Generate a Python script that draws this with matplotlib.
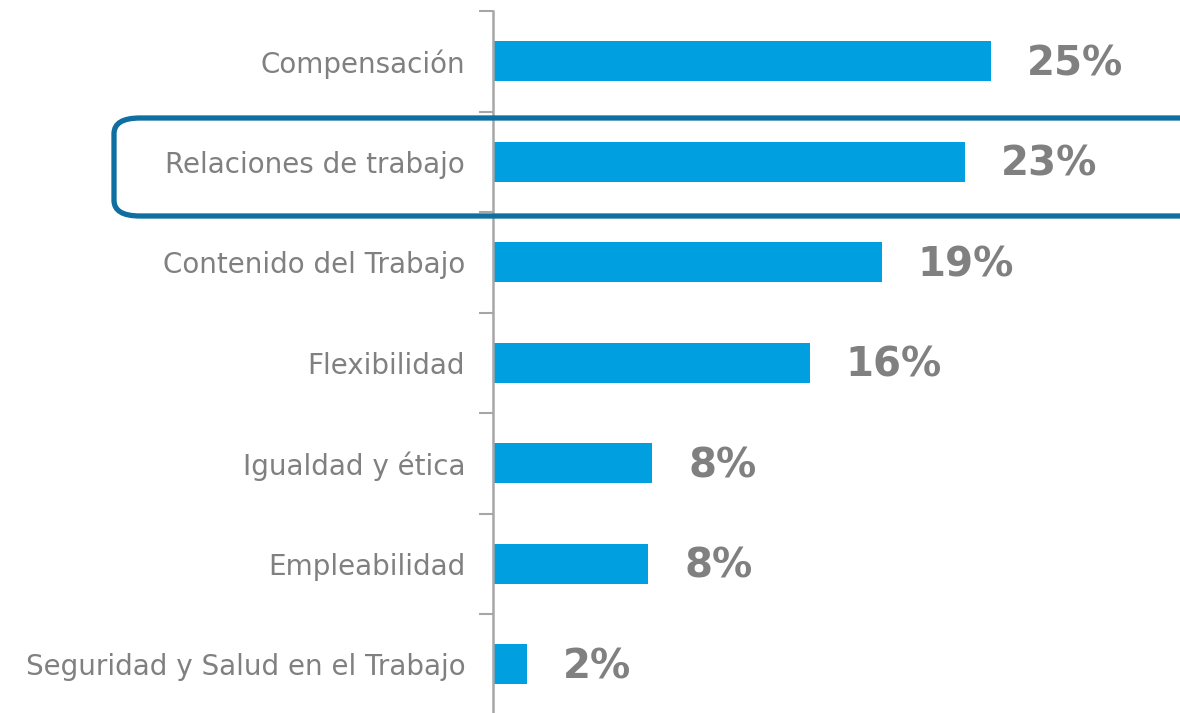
import matplotlib
matplotlib.use("Agg")
import matplotlib.pyplot as plt
from matplotlib.patches import FancyBboxPatch

categories = ["Compensación", "Relaciones de trabajo", "Contenido del Trabajo",
              "Flexibilidad", "Igualdad y ética", "Empleabilidad",
              "Seguridad y Salud en el Trabajo"]
values = [25.0, 23.7, 19.5, 15.9, 8.0, 7.8, 1.7]
value_labels = ["25%", "23%", "19%", "16%", "8%", "8%", "2%"]

bar_color = "#009FE0"
text_gray = "#808080"
axis_gray = "#A6A6A6"
box_color = "#0E6FA0"

fig = plt.figure(figsize=(11.8, 7.13), dpi=100)
ax = fig.add_axes([493 / 1180, 1 - 714.5 / 713, 1 - 493 / 1180, 703.5 / 713])

y = list(range(len(categories)))
ax.barh(y, values, height=0.4, color=bar_color)
ax.set_ylim(len(categories) - 0.5, -0.5)
ax.set_xlim(0, 687 / 19.93)

for yi, v, lab in zip(y, values, value_labels):
    ax.annotate(lab, (v, yi), xytext=(36, -3), textcoords="offset pixels",
                ha="left", va="center", fontsize=29, fontweight="bold",
                color=text_gray)

# ticks at category boundaries, labels at centres
ax.set_yticks([i - 0.5 for i in range(len(categories) + 1)])
ax.set_yticklabels([])
ax.set_yticks(y, minor=True)
ax.set_yticklabels(categories, minor=True, fontsize=20, color=text_gray)
ax.tick_params(axis="y", which="major", length=10, width=1.5, color=axis_gray)
ax.tick_params(axis="y", which="minor", length=0, pad=20)
ax.set_xticks([])
for s in ["top", "right", "bottom"]:
    ax.spines[s].set_visible(False)
ax.spines["left"].set_color(axis_gray)
ax.spines["left"].set_linewidth(1.8)

# highlight box around "Relaciones de trabajo"
box = FancyBboxPatch((114 / 1180, 1 - 216 / 713), 1100 / 1180, 98 / 713,
                     boxstyle="round,pad=0,rounding_size=0.022",
                     transform=fig.transFigure, fill=False,
                     edgecolor=box_color, linewidth=3.8, clip_on=False)
fig.patches.append(box)

fig.savefig("out.png", dpi=100)
